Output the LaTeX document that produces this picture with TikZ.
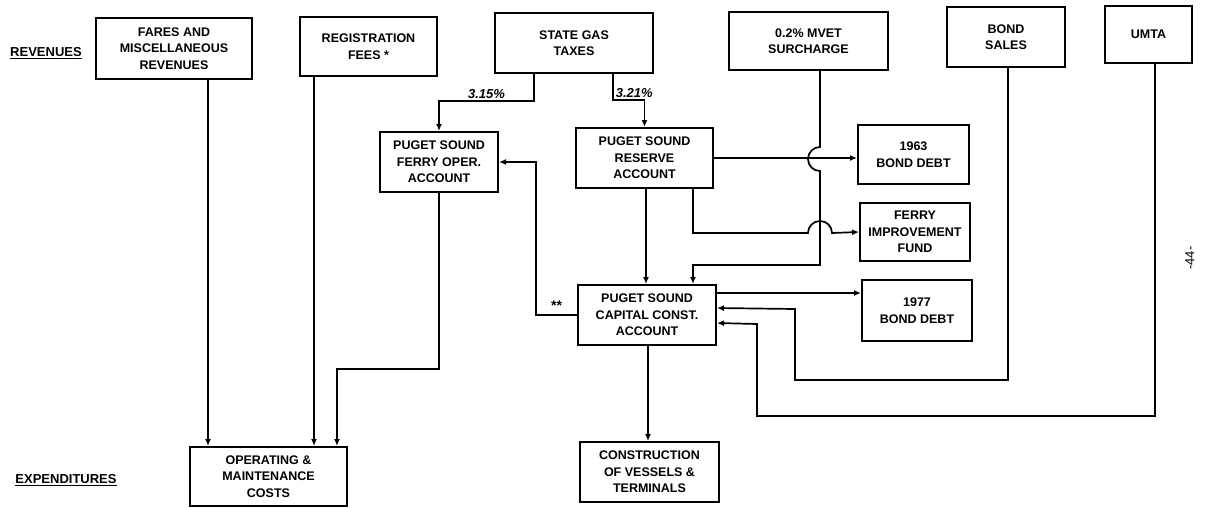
\documentclass[tikz,border=0pt]{standalone}
\usepackage{fontspec}
\setsansfont{Liberation Sans}
\usetikzlibrary{arrows.meta}
\tikzstyle{box} = [draw, line width=2pt, minimum height=60pt, align=center, font=\sffamily\bfseries\fontsize{12.5}{16.5}\selectfont]
\tikzstyle{flow} = [line width=1.7pt, -{Latex[length=7pt,width=6pt]}]
\tikzstyle{head} = [font=\sffamily\bfseries\fontsize{13}{15}\selectfont]
\tikzstyle{pct} = [font=\sffamily\bfseries\itshape\fontsize{13}{15}\selectfont, inner sep=2pt]

\begin{document}
\begin{tikzpicture}[x=1pt,y=-1pt]
  \useasboundingbox (0,0) rectangle (1205,507);
  \node (rev) at (46,53) [head] {\underline{REVENUES}};
  \node (exp) at (66,480) [head] {\underline{EXPENDITURES}};
  \node (fares) at (174,48.5) [box, minimum width=156pt, minimum height=61pt] {FARES AND\\MISCELLANEOUS\\REVENUES};
  \node (reg) at (368.5,46.5) [box, minimum width=137pt, minimum height=59pt] {REGISTRATION\\FEES *};
  \node (gas) at (574,43) [box, minimum width=158pt] {STATE GAS\\TAXES};
  \node (mvet) at (808.5,41) [box, minimum width=159pt, minimum height=58pt] {0.2\% MVET\\SURCHARGE};
  \node (bond) at (1006,37) [box, minimum width=118pt] {BOND\\SALES};
  \node (umta) at (1148.5,34.5) [box, minimum width=87pt, minimum height=57pt] {UMTA};
  \node (ferry) at (439,162) [box, minimum width=118pt] {PUGET SOUND\\FERRY OPER.\\ACCOUNT};
  \node (reserve) at (644.5,158) [box, minimum width=137pt] {PUGET SOUND\\RESERVE\\ACCOUNT};
  \node (b1963) at (913.5,154.5) [box, minimum width=111pt, minimum height=59pt] {1963\\BOND DEBT};
  \node (fif) at (915,232) [box, minimum width=110pt, minimum height=58pt] {FERRY\\IMPROVEMENT\\FUND};
  \node (b1977) at (917,310.5) [box, minimum width=110pt, minimum height=61pt] {1977\\BOND DEBT};
  \node (capital) at (647,315) [box, minimum width=138pt] {PUGET SOUND\\CAPITAL CONST.\\ACCOUNT};
  \node (opcost) at (268.5,476.5) [box, minimum width=157pt, minimum height=59pt] {OPERATING \&\\MAINTENANCE\\COSTS};
  \node (constr) at (649.5,472) [box, minimum width=139pt] {CONSTRUCTION\\OF VESSELS \&\\TERMINALS};
  \node (pg) at (1190,258) [rotate=90, font=\sffamily\fontsize{13}{15}\selectfont] {-44-};
  \coordinate (xf) at (208,0);
  \coordinate (xr) at (314,0);
  \coordinate (xo) at (337,0);
  \coordinate (xg1) at (534,0);
  \coordinate (xg2) at (613,0);
  \coordinate (xm) at (820,0);
  \coordinate (xc1) at (646,0);
  \coordinate (xc2) at (693,0);
  \coordinate (xk) at (648,0);
  \coordinate (xb) at (1008,0);
  \coordinate (xu) at (1155,0);
  \coordinate (y77) at (0,293);
  \coordinate (ys) at (0,308);
  \coordinate (yu) at (0,323);
  \draw [flow] (fares.south -| xf) -- (opcost.north -| xf);
  \draw [flow] (reg.south -| xr) -- (opcost.north -| xr);
  \draw [flow] (ferry.south) -- ++(0,176) -| (opcost.north -| xo);
  \draw [flow] (gas.south -| xg1) -- ++(0,27) -| (ferry.north) node [pct, pos=0.25, above] {3.15\%};
  \draw [flow] (gas.south -| xg2) -- ++(0,26) -| (reserve.north) node [pct, pos=0, anchor=south west] {3.21\%};
  \draw [flow] (reserve.east) -- (reserve.east -| b1963.west);
  \draw [flow] (mvet.south -| xm) -- ++(0,76) arc [start angle=270, end angle=90, radius=12] -- ++(0,94) -| (capital.north -| xc2);
  \draw [flow] (reserve.south -| xc2) -- ++(0,44) -- ++(115,0) arc [start angle=180, end angle=360, radius=12] -- (fif.west);
  \draw [flow] (reserve.south -| xc1) -- (capital.north -| xc1);
  \draw [flow] (capital.east |- y77) -- (b1977.west |- y77);
  \draw [flow] (bond.south -| xb) -- ++(0,312) -| ++(-213,-71) -- (capital.east |- ys);
  \draw [flow] (umta.south -| xu) -- ++(0,352) -| ++(-398,-92) -- (capital.east |- yu);
  \draw [flow] (capital.west) -- ++(-41,0) node [midway, above, font=\sffamily\bfseries\fontsize{14}{15}\selectfont] {**} |- (ferry.east);
  \draw [flow] (capital.south -| xk) -- (constr.north -| xk);
\end{tikzpicture}
\end{document}
